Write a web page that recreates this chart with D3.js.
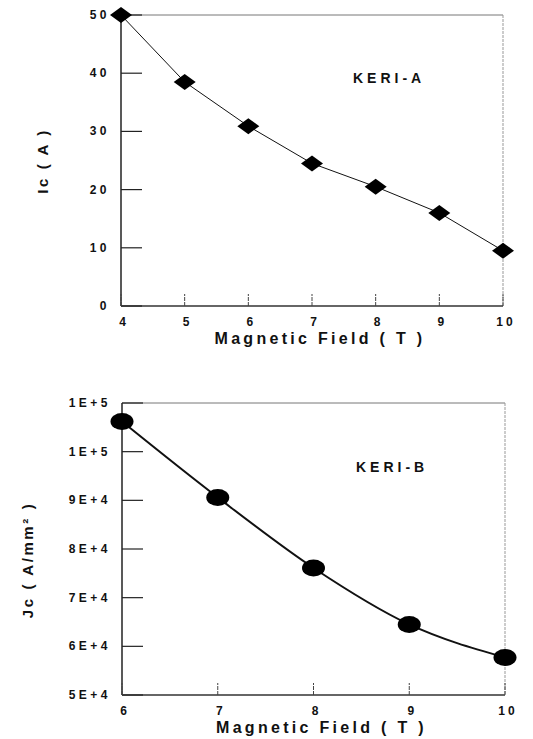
<!DOCTYPE html>
<html>
<head>
<meta charset="utf-8">
<script src="https://cdn.jsdelivr.net/npm/d3@7"></script>
<style>
  body { margin: 0; background: #fff; }
  text { font-family: "Liberation Sans", Arial, sans-serif; font-weight: bold; fill: #111; }
</style>
</head>
<body>
<div id="chart"></div>
<script>
// top panel: KERI-A critical current
var fieldA = [4, 5, 6, 7, 8, 9, 10];
var icA = [50, 38.5, 30.9, 24.5, 20.5, 16.0, 9.5];
var ticksA_y = [0, 10, 20, 30, 40, 50];
var ticksA_x = [4, 5, 6, 7, 8, 9, 10];

// bottom panel: KERI-B critical current density
var fieldB = [6, 7, 8, 9, 10];
var jcB = [106200, 90600, 76100, 64500, 57700];
var ticksB_y = [50000, 60000, 70000, 80000, 90000, 100000, 110000];
var ticksB_ylabels = ["5E+4", "6E+4", "7E+4", "8E+4", "9E+4", "1E+5", "1E+5"];
var ticksB_x = [6, 7, 8, 9, 10];

var svg = d3.select("#chart").append("svg")
  .attr("width", 533)
  .attr("height", 739);

function drawPanel(opt) {
  var g = svg.append("g");
  var x = d3.scaleLinear().domain(opt.xdom).range([opt.left, opt.right]);
  var y = d3.scaleLinear().domain(opt.ydom).range([opt.bottom, opt.top]);

  // frame: top and right faint, left and bottom dark
  g.append("line").attr("x1", opt.left).attr("x2", opt.right).attr("y1", opt.top).attr("y2", opt.top)
    .style("stroke", "#777").style("stroke-width", 1);
  g.append("line").attr("x1", opt.right).attr("x2", opt.right).attr("y1", opt.top).attr("y2", opt.bottom)
    .style("stroke", "#999").style("stroke-width", 1).style("stroke-dasharray", "3,1");
  g.append("line").attr("x1", opt.left).attr("x2", opt.left).attr("y1", opt.top).attr("y2", opt.bottom)
    .style("stroke", "#222").style("stroke-width", 1.5);
  g.append("line").attr("x1", opt.left).attr("x2", opt.right).attr("y1", opt.bottom).attr("y2", opt.bottom)
    .style("stroke", "#333").style("stroke-width", 1.3);

  // y ticks (inside) and labels
  g.selectAll(".ytick").data(opt.yticks).enter().append("line")
    .attr("x1", opt.left).attr("x2", opt.left + 21)
    .attr("y1", function(d) { return y(d); }).attr("y2", function(d) { return y(d); })
    .style("stroke", "#222").style("stroke-width", 1.2);
  g.selectAll(".ylab").data(opt.yticks).enter().append("text")
    .attr("x", opt.left - 11)
    .attr("y", function(d) { return y(d) + 4; })
    .attr("text-anchor", "end")
    .style("font-size", "12px").style("letter-spacing", "3.5px")
    .text(function(d, i) { return opt.ylabels ? opt.ylabels[i] : d; });

  // x ticks (inside) and labels
  g.selectAll(".xtick").data(opt.xticks).enter().append("line")
    .attr("x1", function(d) { return x(d); }).attr("x2", function(d) { return x(d); })
    .attr("y1", opt.bottom).attr("y2", opt.bottom - 12)
    .style("stroke", "#444").style("stroke-width", 1).style("stroke-dasharray", "4,1");
  g.selectAll(".xlab").data(opt.xticks).enter().append("text")
    .attr("x", function(d) { return x(d) + 3; })
    .attr("y", opt.bottom + 20)
    .attr("text-anchor", "middle")
    .style("font-size", "12px").style("letter-spacing", "3px")
    .text(function(d) { return d; });

  // axis titles
  g.append("text")
    .attr("x", (opt.left + opt.right) / 2 + 8)
    .attr("y", opt.bottom + 38)
    .attr("text-anchor", "middle")
    .style("font-size", "16px").style("letter-spacing", "3.3px")
    .text("Magnetic Field ( T )");
  g.append("text")
    .attr("transform", "translate(" + opt.ytitleX + "," + opt.ytitleY + ") rotate(-90)")
    .attr("text-anchor", "middle")
    .style("font-size", "15px").style("letter-spacing", "2.6px")
    .text(opt.ytitle);

  // series label
  g.append("text")
    .attr("x", opt.labelX).attr("y", opt.labelY)
    .style("font-size", "14px").style("letter-spacing", "4px")
    .text(opt.label);

  var pts = opt.xs.map(function(d, i) { return [d, opt.ys[i]]; });
  var line = d3.line()
    .x(function(d) { return x(d[0]); })
    .y(function(d) { return y(d[1]); })
    .curve(opt.curve);
  g.append("path").datum(pts)
    .attr("d", line)
    .style("fill", "none").style("stroke", "#111").style("stroke-width", opt.lineWidth);

  if (opt.marker === "diamond") {
    g.selectAll(".pt").data(pts).enter().append("path")
      .attr("d", function(d) {
        var cx = x(d[0]), cy = y(d[1]);
        return "M" + (cx - 11) + "," + cy + "L" + cx + "," + (cy - 8) + "L" + (cx + 11) + "," + cy + "L" + cx + "," + (cy + 8) + "Z";
      })
      .style("fill", "#000");
  } else {
    g.selectAll(".pt").data(pts).enter().append("ellipse")
      .attr("cx", function(d) { return x(d[0]); })
      .attr("cy", function(d) { return y(d[1]); })
      .attr("rx", 11.5).attr("ry", 8.5)
      .style("fill", "#000");
  }
}

drawPanel({
  xs: fieldA, ys: icA,
  xdom: [4, 10], ydom: [0, 50],
  xticks: ticksA_x, yticks: ticksA_y,
  left: 121, right: 503, top: 15, bottom: 306,
  ytitle: "Ic ( A )", ytitleX: 48, ytitleY: 161,
  label: "KERI-A", labelX: 353, labelY: 83,
  marker: "diamond", lineWidth: 1, curve: d3.curveLinear
});

drawPanel({
  xs: fieldB, ys: jcB,
  xdom: [6, 10], ydom: [50000, 110000],
  xticks: ticksB_x, yticks: ticksB_y, ylabels: ticksB_ylabels,
  left: 122, right: 505, top: 403, bottom: 695,
  ytitle: "Jc ( A/mm² )", ytitleX: 33, ytitleY: 560,
  label: "KERI-B", labelX: 356, labelY: 472,
  marker: "ellipse", lineWidth: 2, curve: d3.curveMonotoneX
});
</script>
</body>
</html>
